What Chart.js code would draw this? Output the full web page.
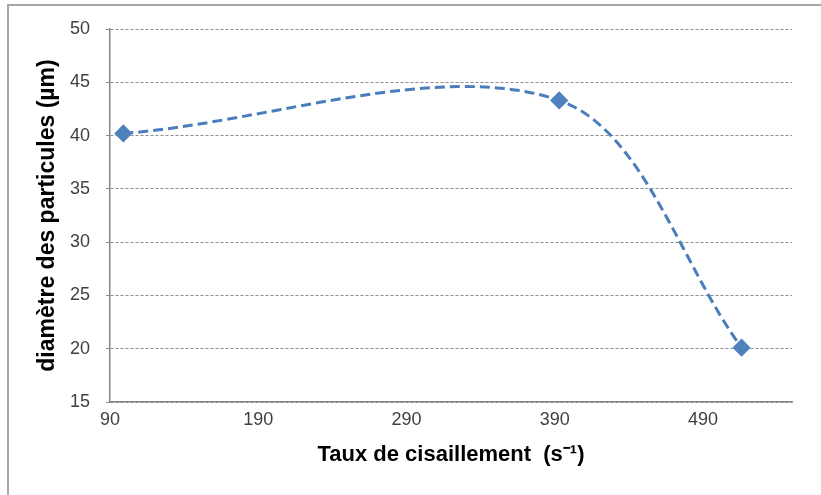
<!DOCTYPE html>
<html lang="fr">
  <head>
    <meta charset="UTF-8" />
    <title>Diamètre des particules</title>
    <script src="https://cdn.jsdelivr.net/npm/chart.js"></script>
    <style>
      html, body {
        margin: 0;
        padding: 0;
        background: #fff;
      }
      #wrap {
        width: 821px;
        height: 495px;
      }
    </style>
  </head>

  <body>
    <div id="wrap"><canvas id="diamChart" width="821" height="495"></canvas></div>

    <script>
      const shearRates = [99, 393, 516];
      const diameters = [40.2, 43.3, 20.1];
      const xTicks = [90, 190, 290, 390, 490];
      const yTicks = [15, 20, 25, 30, 35, 40, 45, 50];

      // gray frame at top and left of the picture
      const framePlugin = {
        id: "frame",
        beforeDraw(chart) {
          const c = chart.ctx;
          c.save();
          c.fillStyle = "#fff";
          c.fillRect(0, 0, chart.width, chart.height);
          c.strokeStyle = "#a6a6a6";
          c.lineWidth = 2;
          c.beginPath();
          c.moveTo(8, chart.height);
          c.lineTo(8, 5);
          c.lineTo(chart.width, 5);
          c.stroke();
          c.restore();
        },
      };

      const ctx = document.getElementById("diamChart").getContext("2d");
      const diamChart = new Chart(ctx, {
        type: "scatter",
        data: {
          datasets: [
            {
              label: "diamètre",
              data: shearRates.map((x, i) => ({ x: x, y: diameters[i] })),
              showLine: true,
              borderColor: "#4a7ebb",
              borderWidth: 3,
              borderDash: [10, 5],
              tension: 0.33,
              pointStyle: "rectRot",
              pointRadius: 7,
              pointBackgroundColor: "#4f81bd",
              pointBorderColor: "#4f81bd",
            },
          ],
        },
        options: {
          responsive: false,
          animation: false,
          layout: { padding: { left: 30, right: 29, top: 29, bottom: 0 } },
          plugins: {
            legend: { display: false },
            tooltip: { enabled: false },
          },
          scales: {
            x: {
              type: "linear",
              min: 90,
              max: 550,
              afterBuildTicks(axis) {
                axis.ticks = xTicks.map((v) => ({ value: v }));
              },
              afterFit(axis) {
                axis.height = 93;
              },
              grid: { display: false, drawTicks: false },
              border: { color: "#868686", width: 1.5 },
              ticks: {
                color: "#404040",
                font: { family: "Liberation Sans", size: 18 },
                padding: 7,
                maxRotation: 0,
              },
              title: {
                display: true,
                text: "Taux de cisaillement  (s⁻¹)",
                color: "#000",
                font: { family: "Liberation Sans", size: 22, weight: "bold" },
                padding: { top: 4, bottom: 27 },
              },
            },
            y: {
              min: 15,
              max: 50,
              afterBuildTicks(axis) {
                axis.ticks = yTicks.map((v) => ({ value: v }));
              },
              afterFit(axis) {
                axis.width = 80;
              },
              grid: {
                color: "#8c8c8c",
                lineWidth: 1,
                tickLength: 4,
                tickBorderDash: [0, 0],
              },
              border: { color: "#868686", width: 1.5, dash: [3, 2] },
              ticks: {
                color: "#404040",
                font: { family: "Liberation Sans", size: 18 },
                padding: 16,
              },
              title: {
                display: true,
                text: "diamètre des particules (µm)",
                color: "#000",
                font: { family: "Liberation Sans", size: 23, weight: "bold" },
                padding: { top: 4, bottom: 4 },
              },
            },
          },
        },
        plugins: [framePlugin],
      });
    </script>
  </body>
</html>
